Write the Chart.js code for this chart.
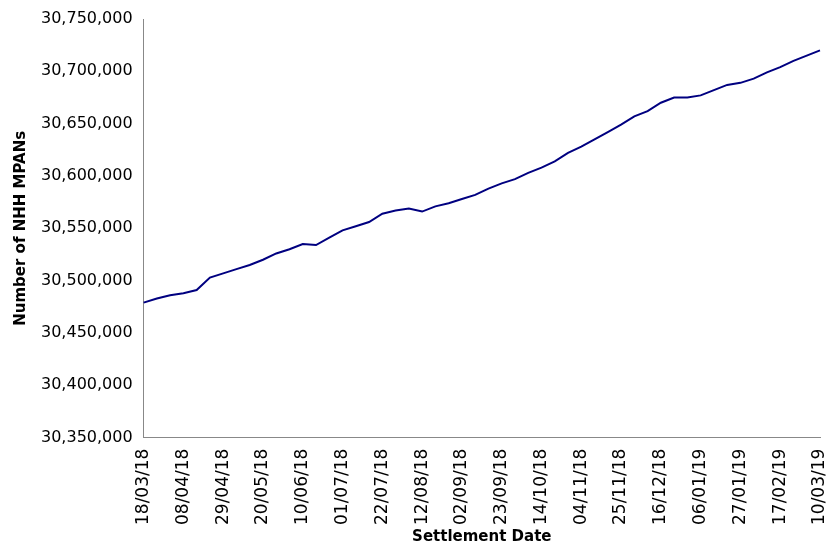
<!DOCTYPE html>
<html><head><meta charset="utf-8">
<script src="https://cdn.jsdelivr.net/npm/chart.js@4"></script>
<style>body{margin:0;background:#fff}#wrap{width:826px;height:556px}</style>
</head><body><div id="wrap"><canvas id="c"></canvas></div>
<script>
// weekly samples starting 18/03/18
const dates = [];
(function () {
    const d0 = new Date(Date.UTC(2018, 2, 18));
    for (let i = 0; i < 52; i++) {
        const d = new Date(d0.getTime() + i * 7 * 86400000);
        const dd = String(d.getUTCDate()).padStart(2, '0');
        const mm = String(d.getUTCMonth() + 1).padStart(2, '0');
        const yy = String(d.getUTCFullYear()).slice(2);
        dates.push(dd + '/' + mm + '/' + yy);
    }
})();
// thousands above 30,000,000
const mpansK = [479,483,486,488,491,503,507,511,515,520,526,530,535,534,541,548,552,556,564,567,
    569,566,571,574,578,582,588,593,597,603,608,614,622,628,635,642,649,657,662,670,
    675,675,677,682,687,689,693,699,704,710,715,720];
const mpans = mpansK.map(v => 30000000 + v * 1000);

const font = 'Verdana, "DejaVu Sans", sans-serif';
new Chart(document.getElementById('c'), {
    type: 'line',
    data: {
        labels: dates,
        datasets: [{
            data: mpans,
            borderColor: '#000080',
            borderWidth: 2,
            pointRadius: 0,
            tension: 0,
            fill: false
        }]
    },
    options: {
        responsive: true,
        maintainAspectRatio: false,
        animation: false,
        layout: { padding: { top: 19, right: 6, left: 8, bottom: 10 } },
        plugins: { legend: { display: false }, tooltip: { enabled: false } },
        scales: {
            x: {
                offset: false,
                grid: { display: false, drawOnChartArea: false },
                border: { color: '#888' },
                afterFit: s => { s.paddingRight = 0; },
                ticks: {
                    autoSkip: false, maxRotation: 90, minRotation: 90,
                    color: '#000', font: { family: font, size: 17 },
                    callback: (v, i) => i % 3 === 0 ? dates[i] : ''
                },
                title: { display: true, text: 'Settlement Date', color: '#000',
                    font: { family: font, size: 15, weight: 'bold' }, padding: 0 }
            },
            y: {
                min: 30350000, max: 30750000,
                grid: { display: false },
                border: { color: '#888' },
                ticks: { stepSize: 50000, color: '#000', font: { family: font, size: 16 },
                    callback: v => v.toLocaleString('en-GB') },
                title: { display: true, text: 'Number of NHH MPANs', color: '#000',
                    font: { family: font, size: 15, weight: 'bold' }, padding: { bottom: 8 } }
            }
        }
    }
});
</script></body></html>
